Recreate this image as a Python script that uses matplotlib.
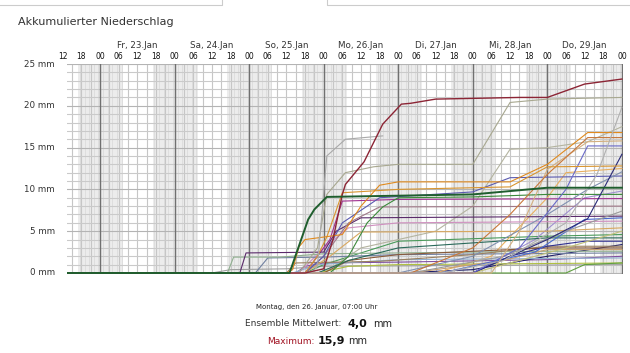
import matplotlib
matplotlib.use("Agg")
import matplotlib.pyplot as plt
from matplotlib.lines import Line2D
from matplotlib.transforms import blended_transform_factory

# hours since Fri 23.Jan 00:00, accumulated precipitation in mm
m01 = [(-11, 0), (66, 0), (72, 0.5), (75, 4), (78, 9.4), (79, 10.6), (85, 13.3), (91, 17.8), (97, 20.2),
       (100, 20.3), (108, 20.8), (135, 21.0), (144, 21.0), (156, 22.6), (168, 23.2)]
m02 = [(-11, 0), (68, 0), (70, 0.8), (73, 14.0), (79, 16.0), (88, 16.3), (91, 16.4)]
m03 = [(-11, 0), (64, 0), (70, 3.0), (73, 9.4), (79, 12.0), (88, 12.7), (96, 13.0), (120, 13.0),
       (132, 20.4), (135, 20.5), (144, 20.8), (168, 21.0)]
m04 = [(-11, 0), (110, 0), (130, 1.5), (150, 6.0), (160, 11.8), (168, 19.8)]
m05 = [(-11, 0), (60, 0), (62, 0.4), (64, 3.1), (66, 4.0), (72, 4.3), (78, 4.6), (84, 8.0), (90, 10.5),
       (96, 10.9), (132, 10.9), (144, 13.0), (157, 16.8), (168, 16.8)]
m06 = [(-11, 0), (66, 0), (70, 2.0), (73, 4.3), (78, 9.6), (96, 10.0), (132, 10.3), (144, 12.7), (168, 12.8)]
m07 = [(-11, 0), (100, 0), (120, 3.0), (132, 7.0), (144, 11.8), (157, 16.2), (168, 16.2)]
m08 = [(-11, 0), (126, 0), (135, 5.0), (144, 12.4), (157, 15.7), (168, 15.8)]
m09 = [(-11, 0), (120, 0), (135, 3.0), (150, 10.0), (157, 15.2), (168, 15.2)]
m10 = [(-11, 0), (120, 0), (144, 4.0), (157, 6.5), (168, 14.2)]
m11 = [(-11, 0), (96, 0), (120, 2.0), (144, 7.0), (157, 10.0), (168, 12.1)]
m12 = [(-11, 0), (66, 0), (72, 2.0), (78, 6.0), (90, 9.0), (120, 9.7), (132, 11.4), (168, 11.6)]
m13 = [(-11, 0), (61, 0), (67, 6.4), (69, 7.6), (73, 9.1), (120, 9.4), (144, 10.2), (168, 10.2)]
m14 = [(-11, 0), (74, 0), (80, 2.0), (86, 6.0), (91, 7.9), (96, 9.0), (120, 9.1), (144, 9.4), (168, 9.4)]
m15 = [(-11, 0), (66, 0), (72, 2.0), (80, 6.0), (90, 7.9), (168, 8.0)]
m16 = [(-11, 0), (100, 0), (130, 2.0), (150, 5.0), (168, 7.4)]
m17 = [(-11, 0), (45, 0), (47, 2.4), (72, 2.5), (76, 5.0), (84, 6.6), (168, 6.8)]
m18 = [(-11, 0), (110, 0), (140, 2.5), (156, 6.4), (168, 6.6)]
m19 = [(-11, 0), (66, 0), (74, 2.0), (84, 4.9), (144, 5.0), (168, 5.4)]
m20 = [(-11, 0), (120, 0), (150, 3.0), (168, 5.0)]
m21 = [(-11, 0), (70, 0), (80, 1.5), (96, 3.0), (120, 3.6), (144, 4.2), (168, 4.2)]
m22 = [(-11, 0), (120, 0), (132, 2.0), (144, 3.2), (156, 3.8), (168, 3.8)]
m23 = [(-11, 0), (72, 0), (80, 1.5), (96, 2.2), (144, 3.0), (168, 3.0)]
m24 = [(-11, 0), (100, 0), (130, 1.5), (144, 2.8), (168, 2.8)]
m25 = [(-11, 0), (60, 0), (63, 1.2), (90, 1.4), (120, 2.2), (144, 3.2), (168, 3.2)]
m26 = [(-11, 0), (150, 0), (156, 1.0), (168, 1.2)]
m27 = [(-11, 0), (70, 0), (80, 0.8), (96, 1.0), (168, 1.2)]
m28 = [(-11, 0), (41, 0), (43, 1.9), (58, 1.9), (72, 2.3), (96, 2.4), (144, 2.6), (168, 2.6)]
m29 = [(-11, 0), (50, 0), (54, 1.8), (72, 1.9), (96, 2.2), (168, 2.4)]
m30 = [(-11, 0), (62, 0), (70, 1.0), (96, 1.6), (168, 1.8)]
m31 = [(-11, 0), (66, 0), (74, 4.0), (78, 8.6), (96, 8.8), (168, 8.9)]
m32 = [(-11, 0), (72, 0), (84, 3.0), (108, 5.0), (120, 8.0), (132, 14.8), (144, 15.0), (157, 15.7), (168, 17.5)]
m33 = [(-11, 0), (64, 0), (72, 3.0), (80, 5.4), (96, 6.0), (168, 6.2)]
m34 = [(-11, 0), (120, 0), (140, 4.0), (156, 9.0), (168, 9.8)]
m35 = [(-11, 0), (108, 0), (126, 2.0), (144, 9.0), (150, 12.0), (168, 12.5)]
m36 = [(-11, 0), (66, 0), (72, 1.0), (96, 3.8), (144, 4.4), (168, 4.6)]
m37 = [(-11, 0), (96, 0), (120, 0.4), (144, 2.0), (168, 3.4)]
m38 = [(-11, 0), (63, 0), (66, 0.8), (72, 1.2), (96, 1.3), (144, 1.6), (168, 2.0)]
m39 = [(-11, 0), (36, 0), (42, 0.4), (60, 0.5), (72, 0.8), (168, 1.0)]

members = [m39, m38, m37, m36, m35, m34, m33, m32, m31, m30, m29, m28, m27, m26, m25, m24, m23, m22,
           m21, m20, m19, m18, m17, m16, m15, m14, m12, m11, m10, m09, m08, m07, m06, m05, m04, m03,
           m02, m01, m13]
member_colors = ['#a0a0a0', '#8050a0', '#20206a', '#4a9a5a', '#e8b060', '#a090d0', '#d090c0', '#b4b4a0',
                 '#a03090', '#90b0d0', '#7080a0', '#90b090', '#b0c040', '#60a040', '#9a8060', '#c8a070',
                 '#8a5a3a', '#303090', '#2a6a5a', '#c0c078', '#d8a860', '#4a6ad0', '#5a2a6a', '#9a9a9a',
                 '#a07888', '#3c8a3c', '#5a5ab0', '#8090b0', '#2a2a78', '#6a6ac8', '#d4b080', '#c8783a',
                 '#d9952f', '#e08a1e', '#b0b0b0', '#a8a890', '#a9a9a9', '#8c2535', '#1f5e2e']

day_labels = ['Fr, 23.Jan', 'Sa, 24.Jan', 'So, 25.Jan', 'Mo, 26.Jan', 'Di, 27.Jan', 'Mi, 28.Jan', 'Do, 29.Jan']
hour_ticks = list(range(-12, 169, 6))
y_ticks = [0, 5, 10, 15, 20, 25]

W, H = 630, 353
fig = plt.figure(figsize=(W / 100, H / 100), dpi=100)
ax = fig.add_axes([66.5 / W, 1 - 274 / H, 556 / W, 210 / H])
ax.set_xlim(-10.8, 168.2)
ax.set_ylim(-0.12, 25)
for s in ax.spines.values():
    s.set_visible(False)
ax.set_xticks([])
ax.set_yticks([])

# night shading and grid
for d in range(0, 8):
    ax.axvspan(d * 24 - 7, d * 24 + 7.5, color='#ececec', lw=0, zorder=0)
    for h in [-6.5, -5, -3.5, -2, -0.5, 1, 2.5, 4, 5.5, 7]:
        ax.axvline(d * 24 + h, color='#dcdcdc', lw=0.6, zorder=0.5)
for h in range(-9, 169, 3):
    ax.axvline(h, color='#c6c6c6', lw=0.8, zorder=0.6)
for v in range(0, 26):
    ax.axhline(v, color='#b4b4b4' if v % 5 == 0 else '#cacaca', lw=0.8, zorder=0.7)
for d in range(0, 8):
    ax.axvline(d * 24, color='#707070', lw=1.0, zorder=0.8)

for m, c in zip(members, member_colors):
    xs = [p[0] for p in m]
    ys = [p[1] for p in m]
    lw = 1.4 if c == '#1f5e2e' else (1.0 if c == '#8c2535' else 0.8)
    ax.plot(xs, ys, color=c, lw=lw, zorder=2, solid_joinstyle='round')

# labels above the plot
tr = blended_transform_factory(ax.transData, ax.transAxes)
for h in hour_ticks:
    ax.text(h, 1 + 8 / 210, '%02d' % (h % 24), transform=tr, ha='center', va='center',
            fontsize=5.5, color='#111111', clip_on=False)
for i, lab in enumerate(day_labels):
    ax.text(12 + 24 * i, 1 + 19 / 210, lab, transform=tr, ha='center', va='center',
            fontsize=6.3, color='#333333', clip_on=False)
for v in y_ticks:
    ax.text(-14.5, v, '%d mm' % v, ha='right', va='center', fontsize=6.3, color='#333333', clip_on=False)

fig.text(18 / W, 1 - 22 / H, 'Akkumulierter Niederschlag', fontsize=8, color='#333333',
         ha='left', va='center', fontweight='medium')

# frames of the boxes at the top
fig.add_artist(Line2D([0, 222 / W, 222 / W], [1 - 5 / H, 1 - 5 / H, 1], color='#cccccc', lw=0.8))
fig.add_artist(Line2D([327 / W, 327 / W, 1], [1, 1 - 5 / H, 1 - 5 / H], color='#cccccc', lw=0.8))

# info below the plot
fig.text(317 / W, 1 - 307 / H, 'Montag, den 26. Januar, 07:00 Uhr', fontsize=5, color='#222222',
         ha='center', va='center')
fig.text(341 / W, 1 - 324 / H, 'Ensemble Mittelwert:', fontsize=6.5, color='#333333', ha='right', va='center')
fig.text(347 / W, 1 - 324 / H, '4,0', fontsize=8, color='#111111', ha='left', va='center', fontweight='bold')
fig.text(373 / W, 1 - 324 / H, 'mm', fontsize=7, color='#222222', ha='left', va='center')
fig.text(314 / W, 1 - 341 / H, 'Maximum:', fontsize=6.5, color='#a01020', ha='right', va='center')
fig.text(318 / W, 1 - 341 / H, '15,9', fontsize=8, color='#111111', ha='left', va='center', fontweight='bold')
fig.text(348 / W, 1 - 341 / H, 'mm', fontsize=7, color='#222222', ha='left', va='center')

fig.savefig('out.png', dpi=100)
